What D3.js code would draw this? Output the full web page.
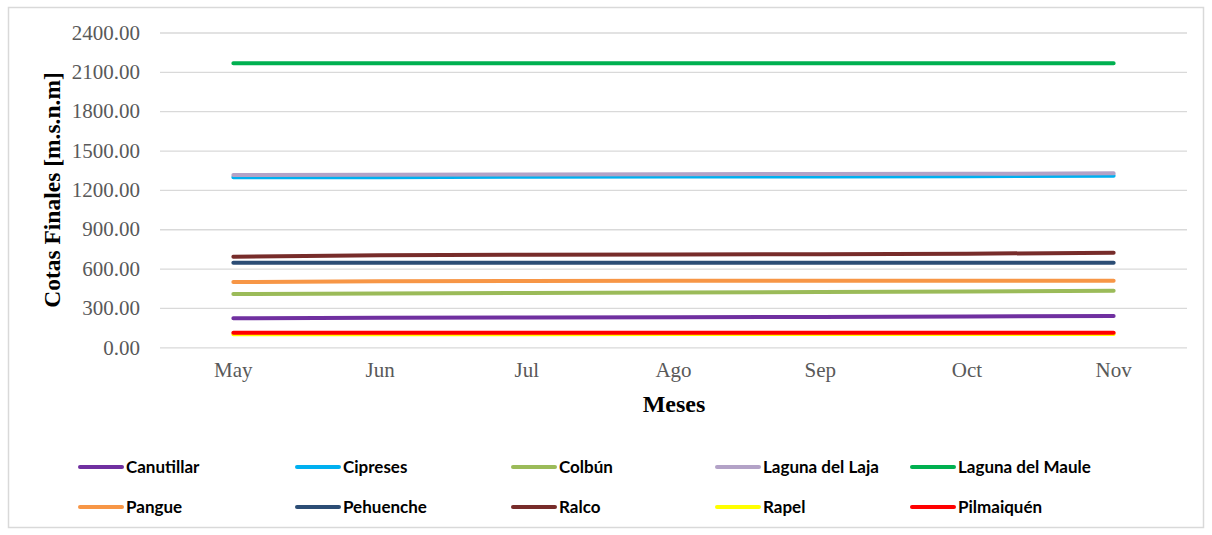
<!DOCTYPE html>
<html>
<head>
<meta charset="utf-8">
<script src="https://cdn.jsdelivr.net/npm/d3@7"></script>
<style>
  html, body { margin: 0; padding: 0; background: #fff; }
  svg { display: block; }
</style>
</head>
<body>
<div id="chart"></div>
<script>
// ---- data ----
const months = ['May', 'Jun', 'Jul', 'Ago', 'Sep', 'Oct', 'Nov'];
const yTicks = [0, 300, 600, 900, 1200, 1500, 1800, 2100, 2400];

const seriesNames = ['Canutillar', 'Cipreses', 'Colbún', 'Laguna del Laja', 'Laguna del Maule',
  'Pangue', 'Pehuenche', 'Ralco', 'Rapel', 'Pilmaiquén'];
const seriesColors = ['#7030A0', '#00B0F0', '#9BBB59', '#B3A2C7', '#00B050',
  '#F79646', '#2C4D75', '#772C2A', '#FFFF00', '#FF0000'];

const canutillar = [221, 225, 228, 230, 231, 235, 238];
const cipreses = [1296, 1297, 1300, 1302, 1303, 1305, 1308];
const colbun = [406, 410, 414, 418, 421, 426, 431];
const lagunaLaja = [1313, 1315, 1318, 1320, 1321, 1323, 1326];
const lagunaMaule = [2165, 2165, 2166, 2166, 2166, 2166, 2166];
const pangue = [498, 503, 506, 507, 507, 507, 507];
const pehuenche = [645, 645, 645, 645, 645, 645, 645];
const ralco = [691, 702, 706, 708, 710, 714, 720];
const rapel = [100, 100, 100, 101, 101, 101, 101];
const pilmaiquen = [110, 110, 110, 110, 110, 110, 110];

const seriesValues = [canutillar, cipreses, colbun, lagunaLaja, lagunaMaule,
  pangue, pehuenche, ralco, rapel, pilmaiquen];

(function () {
  const W = 1212, H = 535;
  const margin = { top: 32.5, right: 25, bottom: 188, left: 160 };
  const width = 1187 - margin.left;
  const height = 347.3 - margin.top;
  const serif = '"Liberation Serif", "Times New Roman", serif';

  const svg = d3.select('#chart').append('svg')
    .attr('width', W).attr('height', H);

  // outer chart border
  svg.append('rect')
    .attr('x', 8.5).attr('y', 7.5).attr('width', 1195).attr('height', 520)
    .attr('fill', '#fff').attr('stroke', '#D9D9D9').attr('stroke-width', 1.5);

  const g = svg.append('g').attr('transform', `translate(${margin.left},${margin.top})`);

  const x = d3.scaleBand().domain(months).range([0, width]);
  const y = d3.scaleLinear().domain([0, 2400]).range([height, 0]);

  // gridlines
  g.append('g').attr('class', 'grid')
    .call(d3.axisLeft(y).tickValues(yTicks).tickSize(-width).tickFormat(''))
    .call(a => a.select('.domain').remove())
    .call(a => a.selectAll('line').attr('stroke', '#D9D9D9').attr('stroke-width', 1.3));

  // y axis labels
  g.append('g')
    .call(d3.axisLeft(y).tickValues(yTicks).tickSize(0).tickPadding(20).tickFormat(d3.format('.2f')))
    .call(a => a.select('.domain').remove())
    .call(a => a.selectAll('text')
      .attr('fill', '#595959').attr('font-size', '21px').attr('font-family', serif));

  // x axis labels
  g.append('g').attr('transform', `translate(0,${height})`)
    .call(d3.axisBottom(x).tickSize(0).tickPadding(15))
    .call(a => a.select('.domain').remove())
    .call(a => a.selectAll('text')
      .attr('fill', '#595959').attr('font-size', '21px').attr('font-family', serif));

  // series lines
  const line = d3.line()
    .x((d, i) => x(months[i]) + x.bandwidth() / 2)
    .y(d => y(d));

  seriesValues.forEach((vals, i) => {
    g.append('path')
      .datum(vals)
      .attr('d', line)
      .attr('fill', 'none')
      .attr('stroke', seriesColors[i])
      .attr('stroke-width', 4)
      .attr('stroke-linecap', 'round')
      .attr('stroke-linejoin', 'round');
  });

  // axis titles
  svg.append('text')
    .attr('transform', 'translate(60,190) rotate(-90)')
    .attr('text-anchor', 'middle')
    .attr('font-family', serif)
    .attr('font-weight', 'bold').attr('font-size', '23.5px').attr('fill', '#000')
    .text('Cotas Finales [m.s.n.m]');

  svg.append('text')
    .attr('x', 674).attr('y', 412)
    .attr('text-anchor', 'middle')
    .attr('font-family', serif)
    .attr('font-weight', 'bold').attr('font-size', '24px').attr('fill', '#000')
    .text('Meses');

  // legend
  const colX = [80, 297, 513, 717, 912];
  const rowY = [467, 507];
  const legend = svg.append('g');
  seriesNames.forEach((name, i) => {
    const lx = colX[i % 5], ly = rowY[Math.floor(i / 5)];
    legend.append('line')
      .attr('x1', lx).attr('x2', lx + 42).attr('y1', ly).attr('y2', ly)
      .attr('stroke', seriesColors[i]).attr('stroke-width', 4).attr('stroke-linecap', 'round');
    legend.append('text')
      .attr('x', lx + 46).attr('y', ly + 6)
      .attr('font-family', 'Lato, "Open Sans", sans-serif')
      .attr('font-weight', 'bold').attr('font-size', '17px').attr('fill', '#000')
      .text(name);
  });
})();
</script>
</body>
</html>
